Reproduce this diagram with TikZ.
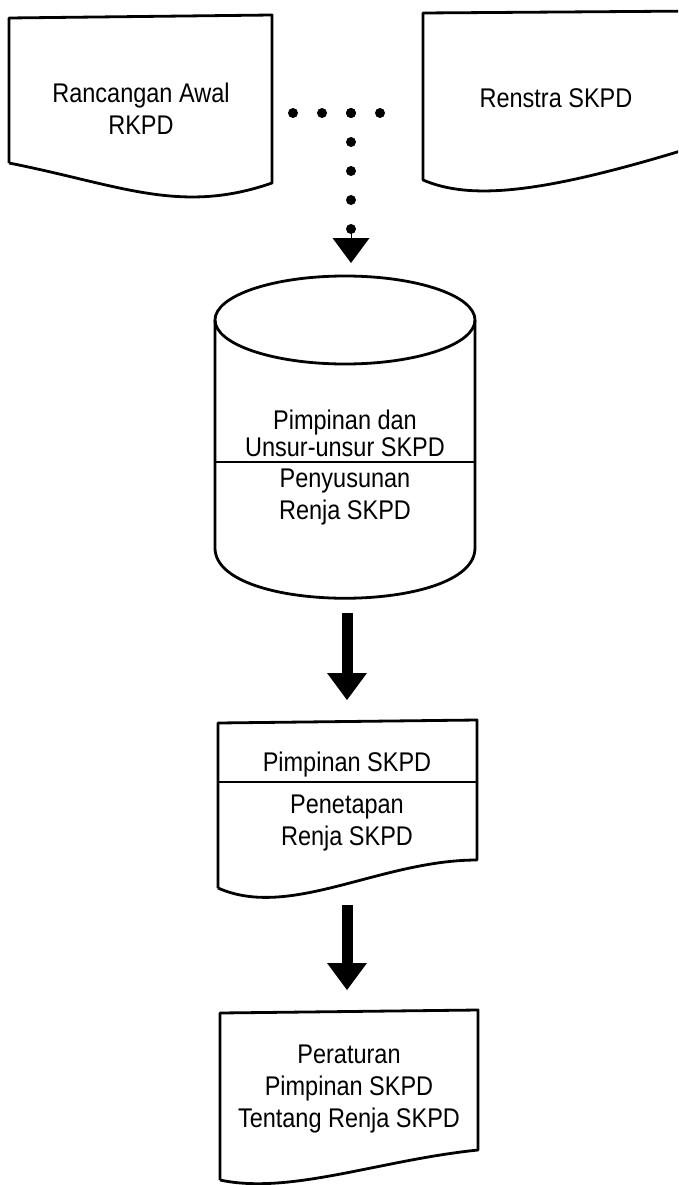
\documentclass[tikz,border=0pt]{standalone}
\usepackage{fontspec}
\setmainfont{Liberation Sans}[FakeStretch=0.87]
\usepackage{tikz}
\usetikzlibrary{arrows.meta}

\begin{document}
\begin{tikzpicture}[x=1pt,y=-1pt,
    outline/.style={line width=2.8pt,line join=round},
    label/.style={align=center,inner sep=0pt,font=\fontsize{27}{32}\selectfont},
    dotline/.style={line width=10pt,line cap=round,dash pattern=on 0pt off 29pt},
    fatarrow/.style={line width=11pt,-{Triangle[width=40pt,length=27pt,line width=0pt]}}]
    \useasboundingbox (0,0) rectangle (678,1185);
    \clip (0,0) rectangle (678,1185);

    % Rancangan Awal RKPD
    \draw[outline] (9,163) -- (9,18) -- (272,15) -- (272,183)
        .. controls (180,215) and (120,185) .. (9,163);
    \node[label] (rkpd) at (141,109) {Rancangan Awal\\RKPD};

    % Renstra SKPD (runs off the page)
    \draw[outline] (700,11) -- (423,13) -- (423,180)
        .. controls (470,200) and (540,195) .. (700,145);
    \node[label] (renstra) at (556,98) {Renstra SKPD};

    % dotted join and drop to the cylinder
    \coordinate (rkpdR) at (272,113);
    \coordinate (renstraL) at (423,113);
    \coordinate (dotmid) at (351,113);
    \coordinate (dotlast) at (351,229);
    \coordinate (cyltop) at (351,275);
    \draw[dotline,shorten <=21pt,shorten >=14pt] (rkpdR) -- (renstraL);
    \draw[dotline] (dotmid) -- (dotlast);
    \draw[line width=0.4pt,-{Triangle[width=37pt,length=25pt,line width=0pt]},shorten >=12pt] (dotlast) -- (cyltop);

    % Pimpinan dan Unsur-unsur SKPD (cylinder)
    \draw[outline] (345,320) ellipse [x radius=130,y radius=44];
    \draw[outline] (215,320) -- (215,548)
        .. controls (215,615) and (475,615) .. (475,548) -- (475,320);
    \draw[outline] (215,462) -- (475,462);
    \node[label,font=\fontsize{27}{27}\selectfont] (pimunsur) at (345,433) {Pimpinan dan\\Unsur-unsur SKPD};
    \node[label] (susun) at (345,497) {Penyusunan\\Renja SKPD};
    \coordinate (cylbot) at (347,598);

    % Pimpinan SKPD / Penetapan
    \draw[outline] (218,888) -- (218,723) -- (477,720) -- (477,860)
        .. controls (380,860) and (290,920) .. (218,888);
    \draw[outline] (218,782) -- (477,782);
    \node[label] (pimskpd) at (347,765) {Pimpinan SKPD};
    \node[label] (tetap) at (347,823) {Penetapan\\Renja SKPD};
    \coordinate (pimtop) at (347,722);
    \coordinate (pimbot) at (347,885);

    % Peraturan Pimpinan SKPD
    \draw[outline] (220,1180) -- (220,1013) -- (478,1010) -- (478,1150)
        .. controls (380,1160) and (290,1195) .. (220,1180);
    \node[label] (perda) at (349,1089) {Peraturan\\Pimpinan SKPD\\Tentang Renja SKPD};
    \coordinate (perdtop) at (347,1012);

    % block arrows
    \draw[fatarrow,shorten <=15pt,shorten >=22pt] (cylbot) -- (pimtop);
    \draw[fatarrow,shorten <=20pt,shorten >=22pt] (pimbot) -- (perdtop);
\end{tikzpicture}
\end{document}
